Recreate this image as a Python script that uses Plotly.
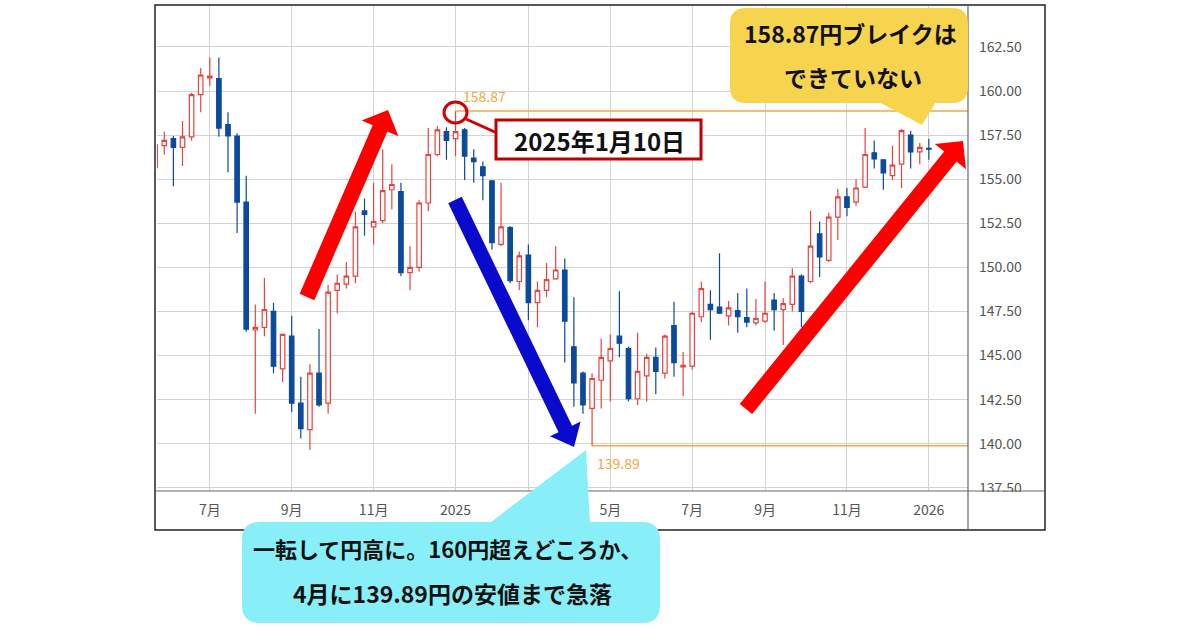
import math
import pandas as pd
import plotly.graph_objects as go

# weekly USD/JPY candles (Monday of each week)
weeks = list(pd.date_range('2024-05-20', periods=86, freq='7D').strftime('%Y-%m-%d'))

opens = [155.65, 156.9, 157.3, 156.8, 157.4, 159.8, 160.75, 160.7, 158.1, 157.45,
         153.7, 146.45, 146.6, 147.5, 144.25, 146.1, 142.3, 140.8, 144.0, 142.3,
         148.7, 149.05, 149.5, 153.2, 152.3, 152.65, 154.4, 154.3, 149.7, 150.0,
         153.65, 156.4, 157.7, 157.3, 157.8, 156.2, 155.7, 154.9, 151.3, 152.25,
         149.2, 150.7, 148.0, 148.7, 149.35, 149.85, 145.5, 144.0, 142.0, 143.6,
         144.7, 146.1, 145.4, 142.55, 143.85, 144.9, 144.0, 146.7, 144.35, 144.4,
         147.2, 147.9, 147.75, 147.25, 147.55, 147.15, 146.85, 146.95, 148.15, 147.6,
         147.9, 149.5, 149.2, 151.9, 150.4, 152.85, 154.0, 153.7, 154.55, 156.5,
         156.1, 155.2, 155.85, 157.5, 156.55, 156.75]
highs = [157.0, 157.7, 157.45, 158.3, 159.9, 161.3, 161.9, 161.9, 158.8, 157.6,
         155.2, 147.9, 149.4, 148.0, 146.25, 147.25, 143.8, 144.5, 146.5, 149.0,
         149.6, 150.3, 153.15, 153.9, 154.8, 156.7, 155.85, 154.8, 151.2, 153.8,
         157.9, 158.0, 157.95, 158.87, 157.9, 156.7, 156.0, 154.95, 154.8, 152.35,
         150.9, 151.3, 149.2, 150.25, 151.2, 150.5, 148.3, 144.1, 144.0, 145.95,
         146.2, 148.65, 145.5, 146.3, 145.1, 145.45, 146.2, 148.05, 145.2, 147.5,
         149.2, 148.7, 150.8, 148.1, 148.55, 148.8, 148.2, 149.2, 148.55, 148.25,
         149.95, 149.6, 153.2, 152.6, 153.1, 154.45, 154.5, 155.0, 157.9, 157.2,
         156.1, 156.9, 157.85, 157.75, 157.05, 157.3]
lows = [155.6, 156.4, 154.6, 155.75, 157.2, 158.8, 160.3, 157.4, 155.4, 151.95,
        146.35, 141.7, 146.1, 144.0, 143.5, 141.8, 140.3, 139.65, 142.1, 141.7,
        147.4, 148.8, 149.1, 151.8, 151.3, 152.5, 153.3, 149.5, 148.7, 149.75,
        153.2, 156.3, 156.1, 156.3, 154.95, 154.8, 153.8, 151.0, 151.2, 149.1,
        148.7, 147.0, 146.6, 148.3, 149.3, 144.6, 142.1, 141.7, 139.89, 142.0,
        142.4, 144.9, 142.4, 142.2, 142.4, 142.8, 143.7, 143.8, 142.7, 144.2,
        146.9, 145.9, 147.35, 146.7, 146.3, 146.6, 146.7, 146.85, 146.4, 145.6,
        147.5, 146.6, 149.1, 149.45, 150.3, 151.55, 152.9, 153.5, 154.5, 155.6,
        154.4, 154.95, 154.5, 155.6, 155.85, 156.1]
closes = [156.95, 157.2, 156.8, 157.4, 159.8, 160.9, 160.85, 157.9, 157.45, 153.7,
          146.5, 146.6, 147.6, 144.4, 146.2, 142.3, 140.85, 144.0, 142.2, 148.6,
          149.1, 149.5, 152.3, 153.0, 152.6, 154.35, 154.7, 149.7, 150.0, 153.65,
          156.4, 157.8, 157.2, 157.7, 156.3, 156.0, 155.2, 151.4, 152.3, 149.25,
          150.65, 148.0, 148.7, 149.3, 149.85, 146.95, 143.45, 142.2, 143.7, 144.9,
          145.4, 145.7, 142.55, 144.1, 144.9, 144.1, 146.1, 144.6, 144.45, 147.4,
          148.8, 147.6, 147.4, 147.7, 147.2, 146.9, 147.1, 147.4, 147.6, 147.95,
          149.5, 147.5, 151.2, 150.6, 152.85, 154.0, 153.4, 154.5, 156.4, 156.15,
          155.35, 155.8, 157.75, 156.55, 156.8, 156.7]

tick_weeks = ['2024-07-01', '2024-09-02', '2024-11-04', '2025-01-06', '2025-03-03',
              '2025-05-05', '2025-07-07', '2025-09-01', '2025-11-03', '2026-01-05']
tick_labels = ['7月', '9月', '11月', '2025', '3月', '5月', '7月', '9月', '11月', '2026']

high_level = 158.87
high_week = '2025-01-06'
low_level = 139.89
low_week = '2025-04-21'

# plot area in pixels
L, R, T, B = 157, 968, 6, 491


def P(x, y):
    return (x - L) / (R - L), (B - y) / (B - T)


def poly(points):
    pts = [P(x, y) for x, y in points]
    return 'M ' + ' L '.join(f'{a:.5f},{b:.5f}' for a, b in pts) + ' Z'


def rounded(x0, y0, x1, y1, r):
    def f(x, y):
        a, b = P(x, y)
        return f'{a:.5f},{b:.5f}'
    return (f'M {f(x0 + r, y0)} L {f(x1 - r, y0)} Q {f(x1, y0)} {f(x1, y0 + r)} '
            f'L {f(x1, y1 - r)} Q {f(x1, y1)} {f(x1 - r, y1)} '
            f'L {f(x0 + r, y1)} Q {f(x0, y1)} {f(x0, y1 - r)} '
            f'L {f(x0, y0 + r)} Q {f(x0, y0)} {f(x0 + r, y0)} Z')


def arrow(x0, y0, x1, y1, sw, hw, hl):
    d = math.hypot(x1 - x0, y1 - y0)
    ux, uy = (x1 - x0) / d, (y1 - y0) / d
    nx, ny = -uy, ux
    bx, by = x1 - ux * hl, y1 - uy * hl
    return poly([(x0 + nx * sw / 2, y0 + ny * sw / 2),
                 (bx + nx * sw / 2, by + ny * sw / 2),
                 (bx + nx * hw / 2, by + ny * hw / 2),
                 (x1, y1),
                 (bx - nx * hw / 2, by - ny * hw / 2),
                 (bx - nx * sw / 2, by - ny * sw / 2),
                 (x0 - nx * sw / 2, y0 - ny * sw / 2)])


fig = go.Figure()

fig.add_trace(go.Candlestick(
    x=weeks, open=opens, high=highs, low=lows, close=closes,
    increasing=dict(line=dict(color='#E8433E', width=1.2), fillcolor='white'),
    decreasing=dict(line=dict(color='#0B4A9C', width=1.2), fillcolor='#0B4A9C'),
    whiskerwidth=0, showlegend=False, hoverinfo='skip'))

orange = '#F5A742'
hi_i = weeks.index(high_week)
lo_i = weeks.index(low_week)

shapes = [
    # price level lines
    dict(type='line', xref='x', yref='y', x0=hi_i, x1=100, y0=high_level, y1=high_level,
         line=dict(color=orange, width=1.5), layer='above'),
    dict(type='line', xref='x', yref='y', x0=lo_i, x1=100, y0=low_level, y1=low_level,
         line=dict(color=orange, width=1.5), layer='above'),
]

paper_shapes = []
# cover lower part of right axis panel
x0p, y0p = P(969, 492)
x1p, y1p = P(1044, 529)
paper_shapes.append(dict(type='rect', x0=x0p, y0=y0p, x1=x1p, y1=y1p,
                         fillcolor='white', line=dict(width=0)))
# outer frame and separators
x0p, y0p = P(155, 5)
x1p, y1p = P(1045, 530)
paper_shapes.append(dict(type='rect', x0=x0p, y0=y0p, x1=x1p, y1=y1p,
                         line=dict(color='#222222', width=1.5)))
a, b = P(968, 5)
c, d = P(968, 530)
paper_shapes.append(dict(type='line', x0=a, y0=b, x1=c, y1=d, line=dict(color='#666666', width=1.2)))
a, b = P(155, 491)
c, d = P(1045, 491)
paper_shapes.append(dict(type='line', x0=a, y0=b, x1=c, y1=d, line=dict(color='#666666', width=1.2)))

# arrows
paper_shapes.append(dict(type='path', path=arrow(307, 297, 388, 110, 16, 40, 20),
                         fillcolor='#FF0000', line=dict(width=0)))
paper_shapes.append(dict(type='path', path=arrow(455, 200, 574, 447, 15, 34, 20),
                         fillcolor='#0A0ACF', line=dict(width=0)))
paper_shapes.append(dict(type='path', path=arrow(746, 409, 963, 141, 16, 40, 20),
                         fillcolor='#FF0000', line=dict(width=0)))

# circle on the high, connector and date box
a, b = P(444, 102)
c, d = P(467, 123)
paper_shapes.append(dict(type='circle', x0=a, y0=b, x1=c, y1=d,
                         line=dict(color='#D40000', width=3)))
a, b = P(466, 119)
c, d = P(497, 133)
paper_shapes.append(dict(type='line', x0=a, y0=b, x1=c, y1=d, line=dict(color='#D40000', width=3)))
a, b = P(496, 120)
c, d = P(701, 159)
paper_shapes.append(dict(type='rect', x0=a, y0=b, x1=c, y1=d, fillcolor='white',
                         line=dict(color='#C00000', width=3)))

# yellow callout
yellow = '#F6D44E'
paper_shapes.append(dict(type='path', path=rounded(730, 8, 968, 103, 16),
                         fillcolor=yellow, line=dict(width=0)))
paper_shapes.append(dict(type='path', path=poly([(875, 100), (937, 100), (922, 125)]),
                         fillcolor=yellow, line=dict(width=0)))

# cyan callout
cyan = '#88EFF8'
paper_shapes.append(dict(type='path', path=rounded(242, 522, 660, 623, 18),
                         fillcolor=cyan, line=dict(width=0)))
paper_shapes.append(dict(type='path', path=poly([(487, 525), (590, 525), (586, 450)]),
                         fillcolor=cyan, line=dict(width=0)))

for s in paper_shapes:
    s.update(xref='paper', yref='paper', layer='above')
shapes += paper_shapes

jp = 'Noto Sans CJK JP'
annotations = [
    dict(x=hi_i, y=high_level, xref='x', yref='y', text='158.87', showarrow=False,
         xanchor='left', yanchor='bottom', xshift=5, yshift=3,
         font=dict(family=jp, size=14, color=orange)),
    dict(x=lo_i, y=low_level, xref='x', yref='y', text='139.89', showarrow=False,
         xanchor='left', yanchor='top', xshift=3, yshift=-5,
         font=dict(family=jp, size=14, color=orange)),
]


def label(x, y, text, size=22):
    a, b = P(x, y)
    annotations.append(dict(x=a, y=b, xref='paper', yref='paper', text=f'<b>{text}</b>',
                            showarrow=False, xanchor='center', yanchor='middle',
                            font=dict(family=jp, size=size, color='#111111')))


label(599, 140, '2025年1月10日', 24)
label(850, 33, '158.87円ブレイクは', 23)
label(853, 77, 'できていない', 23)
label(447, 548, '一転して円高に。160円超えどころか、', 22)
label(452, 593, '4月に139.89円の安値まで急落', 23)

fig.update_layout(
    width=1200, height=630,
    margin=dict(l=L, r=1200 - R, t=T, b=630 - B),
    paper_bgcolor='white', plot_bgcolor='white',
    shapes=shapes, annotations=annotations,
    xaxis=dict(type='category', range=[0.2, 89.3], rangeslider=dict(visible=False),
               tickmode='array', tickvals=tick_weeks, ticktext=tick_labels,
               showgrid=True, gridcolor='#D3D3D3', gridwidth=1, showline=False,
               ticks='', ticklabelstandoff=9,
               tickfont=dict(family=jp, size=14, color='#555555')),
    yaxis=dict(side='right', range=[137.32, 164.82], dtick=2.5, tick0=137.5,
               tickformat='.2f', showgrid=True, gridcolor='#D3D3D3', gridwidth=1,
               zeroline=False, showline=False, ticks='', ticklabelstandoff=10,
               tickfont=dict(family=jp, size=14, color='#555555')),
)

fig.write_html('out.html', config={'displayModeBar': False},
               post_script="document.body.style.margin='0';")
